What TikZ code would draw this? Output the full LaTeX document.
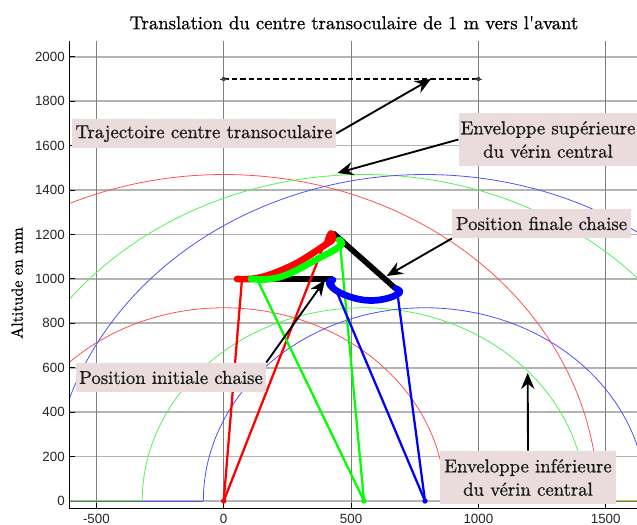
\documentclass[tikz,border=0pt]{standalone}
\usepackage{fontspec}
\setmainfont{lmroman10-regular.otf}[FakeBold=0.8]
\newfontfamily\ticksf{Liberation Sans}
\usetikzlibrary{arrows.meta,calc}
\definecolor{labfill}{HTML}{EADCDC}
\definecolor{redarc}{HTML}{FF5050}
\definecolor{greenarc}{HTML}{50F550}
\definecolor{bluearc}{HTML}{5050FF}
\definecolor{gridh}{HTML}{B4B4B4}
\definecolor{gridv}{HTML}{808080}
\tikzset{
  lab/.style={fill=labfill,inner sep=0pt,align=center,font=\fontsize{14.05}{17.5}\selectfont,text=black!90},
  env/.style={line width=0.6pt},
  leg/.style={line width=1.7pt},
  seat/.style={line width=5pt,line cap=round,line join=round},
  blackseat/.style={line width=4.2pt,black},
  callout/.style={line width=1.4pt,-{Stealth[length=12pt,width=10pt,inset=4pt]}},
  ticklab/.style={font=\ticksf\fontsize{10}{12}\selectfont,inner sep=0pt,text=black!85},
}
\begin{document}
\begin{tikzpicture}[x=0.75pt,y=-0.75pt]
\useasboundingbox (0,0) rectangle (637,525);
\fill[white] (0,0) rectangle (637,525);
% grid
\foreach \v in {0,200,...,2000}{
  \pgfmathsetmacro{\py}{501-0.2221*\v}
  \draw[gridh,line width=1.3pt] (69,\py) -- (637,\py);
  \draw[black,line width=0.6pt] (69,\py) -- (75,\py);
  \node[ticklab,anchor=east] at (65,\py) {\v};
}
\foreach \v in {-500,0,500,1000,1500}{
  \pgfmathsetmacro{\px}{223.7+0.2547*\v}
  \draw[gridv,line width=0.6pt] (\px,41) -- (\px,508);
  \draw[black,line width=0.6pt] (\px,508.3) -- (\px,503);
  \node[ticklab,anchor=north] at (\px,514) {\v};
}
% data
\begin{scope}
\clip (69,41) rectangle (637,508);
\begin{scope}[shift={(223.7,501)},x=0.19103pt,y=0.16658pt]
  \foreach \cx/\col in {0/redarc,550/greenarc,790/bluearc}{
    \draw[env,\col] plot[domain=0:180,samples=120,smooth] ({\cx+1470*cos(\x)},{1470*sin(\x)});
    \draw[env,\col] plot[domain=0:180,samples=120,smooth] ({\cx+870*cos(\x)},{870*sin(\x)});
  }
  \draw[env,bluearc] (-620,0) -- (-80,0);
  \draw[env,greenarc!60!black] (-620,0) -- (-320,0);
  \draw[env,olive] (1420,0) -- (1660,0);
  \coordinate (trajA) at (0,1900);
  \coordinate (trajB) at (1000,1900);
\end{scope}
\end{scope}
% axes
\draw[black,line width=0.7pt] (69.3,41) -- (69.3,508.3) -- (637,508.3);
% trajectory
\draw[black,line width=1.3pt,dash pattern=on 4pt off 2.2pt] (trajA) -- (trajB);
\foreach \c in {trajA,trajB}{
  \fill[black!75] (\c) circle (1.6pt);
  \draw[black!75,line width=0.6pt] ($(\c)+(-4,0)$) -- ($(\c)+(4,0)$);
}
% chair
\coordinate (redfoot) at (223.7,501);
\coordinate (greenfoot) at (364,501);
\coordinate (bluefoot) at (425,501);
\draw[blackseat] (243,279) -- (333,279);
\draw[blackseat] (333,233) -- (395,288);
\draw[leg,red] (redfoot) -- (242,279);
\draw[leg,red] (redfoot) -- (327.5,236);
\draw[leg,green] (greenfoot) -- (257,279);
\draw[leg,green] (greenfoot) -- (340,243);
\draw[leg,blue] (bluefoot) -- (397,290);
\draw[leg,blue] (bluefoot) -- (333,283);
\draw[seat,red] plot[smooth,tension=0.6] coordinates {(237,279) (250,279) (262,277) (277,272) (295,264) (310,255) (325,245) (333,239) (331,233.5) (328,240)};
\draw[seat,green] plot[smooth,tension=0.6] coordinates {(251,279) (265,279.5) (280,277) (295,271) (310,263) (325,255) (336,249) (342,243.5) (339,240)};
\draw[seat,blue] plot[smooth,tension=0.6] coordinates {(333,280) (329,283) (334,289) (345,295) (358,299) (370,300.5) (382,299.5) (393,296.5) (400,292) (396,288.5)};
\fill[red] (redfoot) circle (2pt);
\fill[green] (greenfoot) circle (2pt);
\fill[blue] (bluefoot) circle (2pt);
% labels
\node[lab,minimum width=198pt,minimum height=22pt] (ltraj) at (204,133.5) {Trajectoire centre transoculaire};
\node[lab,minimum width=134pt,minimum height=40pt] (lsup) at (548,139.5) {Enveloppe supérieure\\du vérin central};
\node[lab,minimum width=134pt,minimum height=22pt] (lfin) at (541.5,223.5) {Position finale chaise};
\node[lab,minimum width=142.5pt,minimum height=22pt] (lini) at (171,377.5) {Position initiale chaise};
\node[lab,minimum width=132pt,minimum height=40pt] (linf) at (528,477.5) {Enveloppe inférieure\\du vérin central};
% targets
\coordinate (ttraj) at (431,79);
\coordinate (tsup) at (337.4,173);
\coordinate (tfin) at (386.7,276);
\coordinate (tini) at (325,280);
\coordinate (tinf) at (527.7,373);
\draw[callout] (ltraj.east) -- (ttraj);
\draw[callout] (lsup.west) -- (tsup);
\draw[callout] (lfin.south west) -- (tfin);
\draw[callout] (lini.north east) -- (tini);
\draw[callout] (linf.north) -- (tinf);
% title and axis title
\node[inner sep=0pt,font=\fontsize{14}{16}\selectfont] (title) at (354,22.7) {Translation du centre transoculaire de 1 m vers l\textquotesingle avant};
\node[inner sep=0pt,rotate=90,font=\fontsize{12}{15}\selectfont] (ylab) at (17,283) {Altitude en mm};
\end{tikzpicture}
\end{document}
